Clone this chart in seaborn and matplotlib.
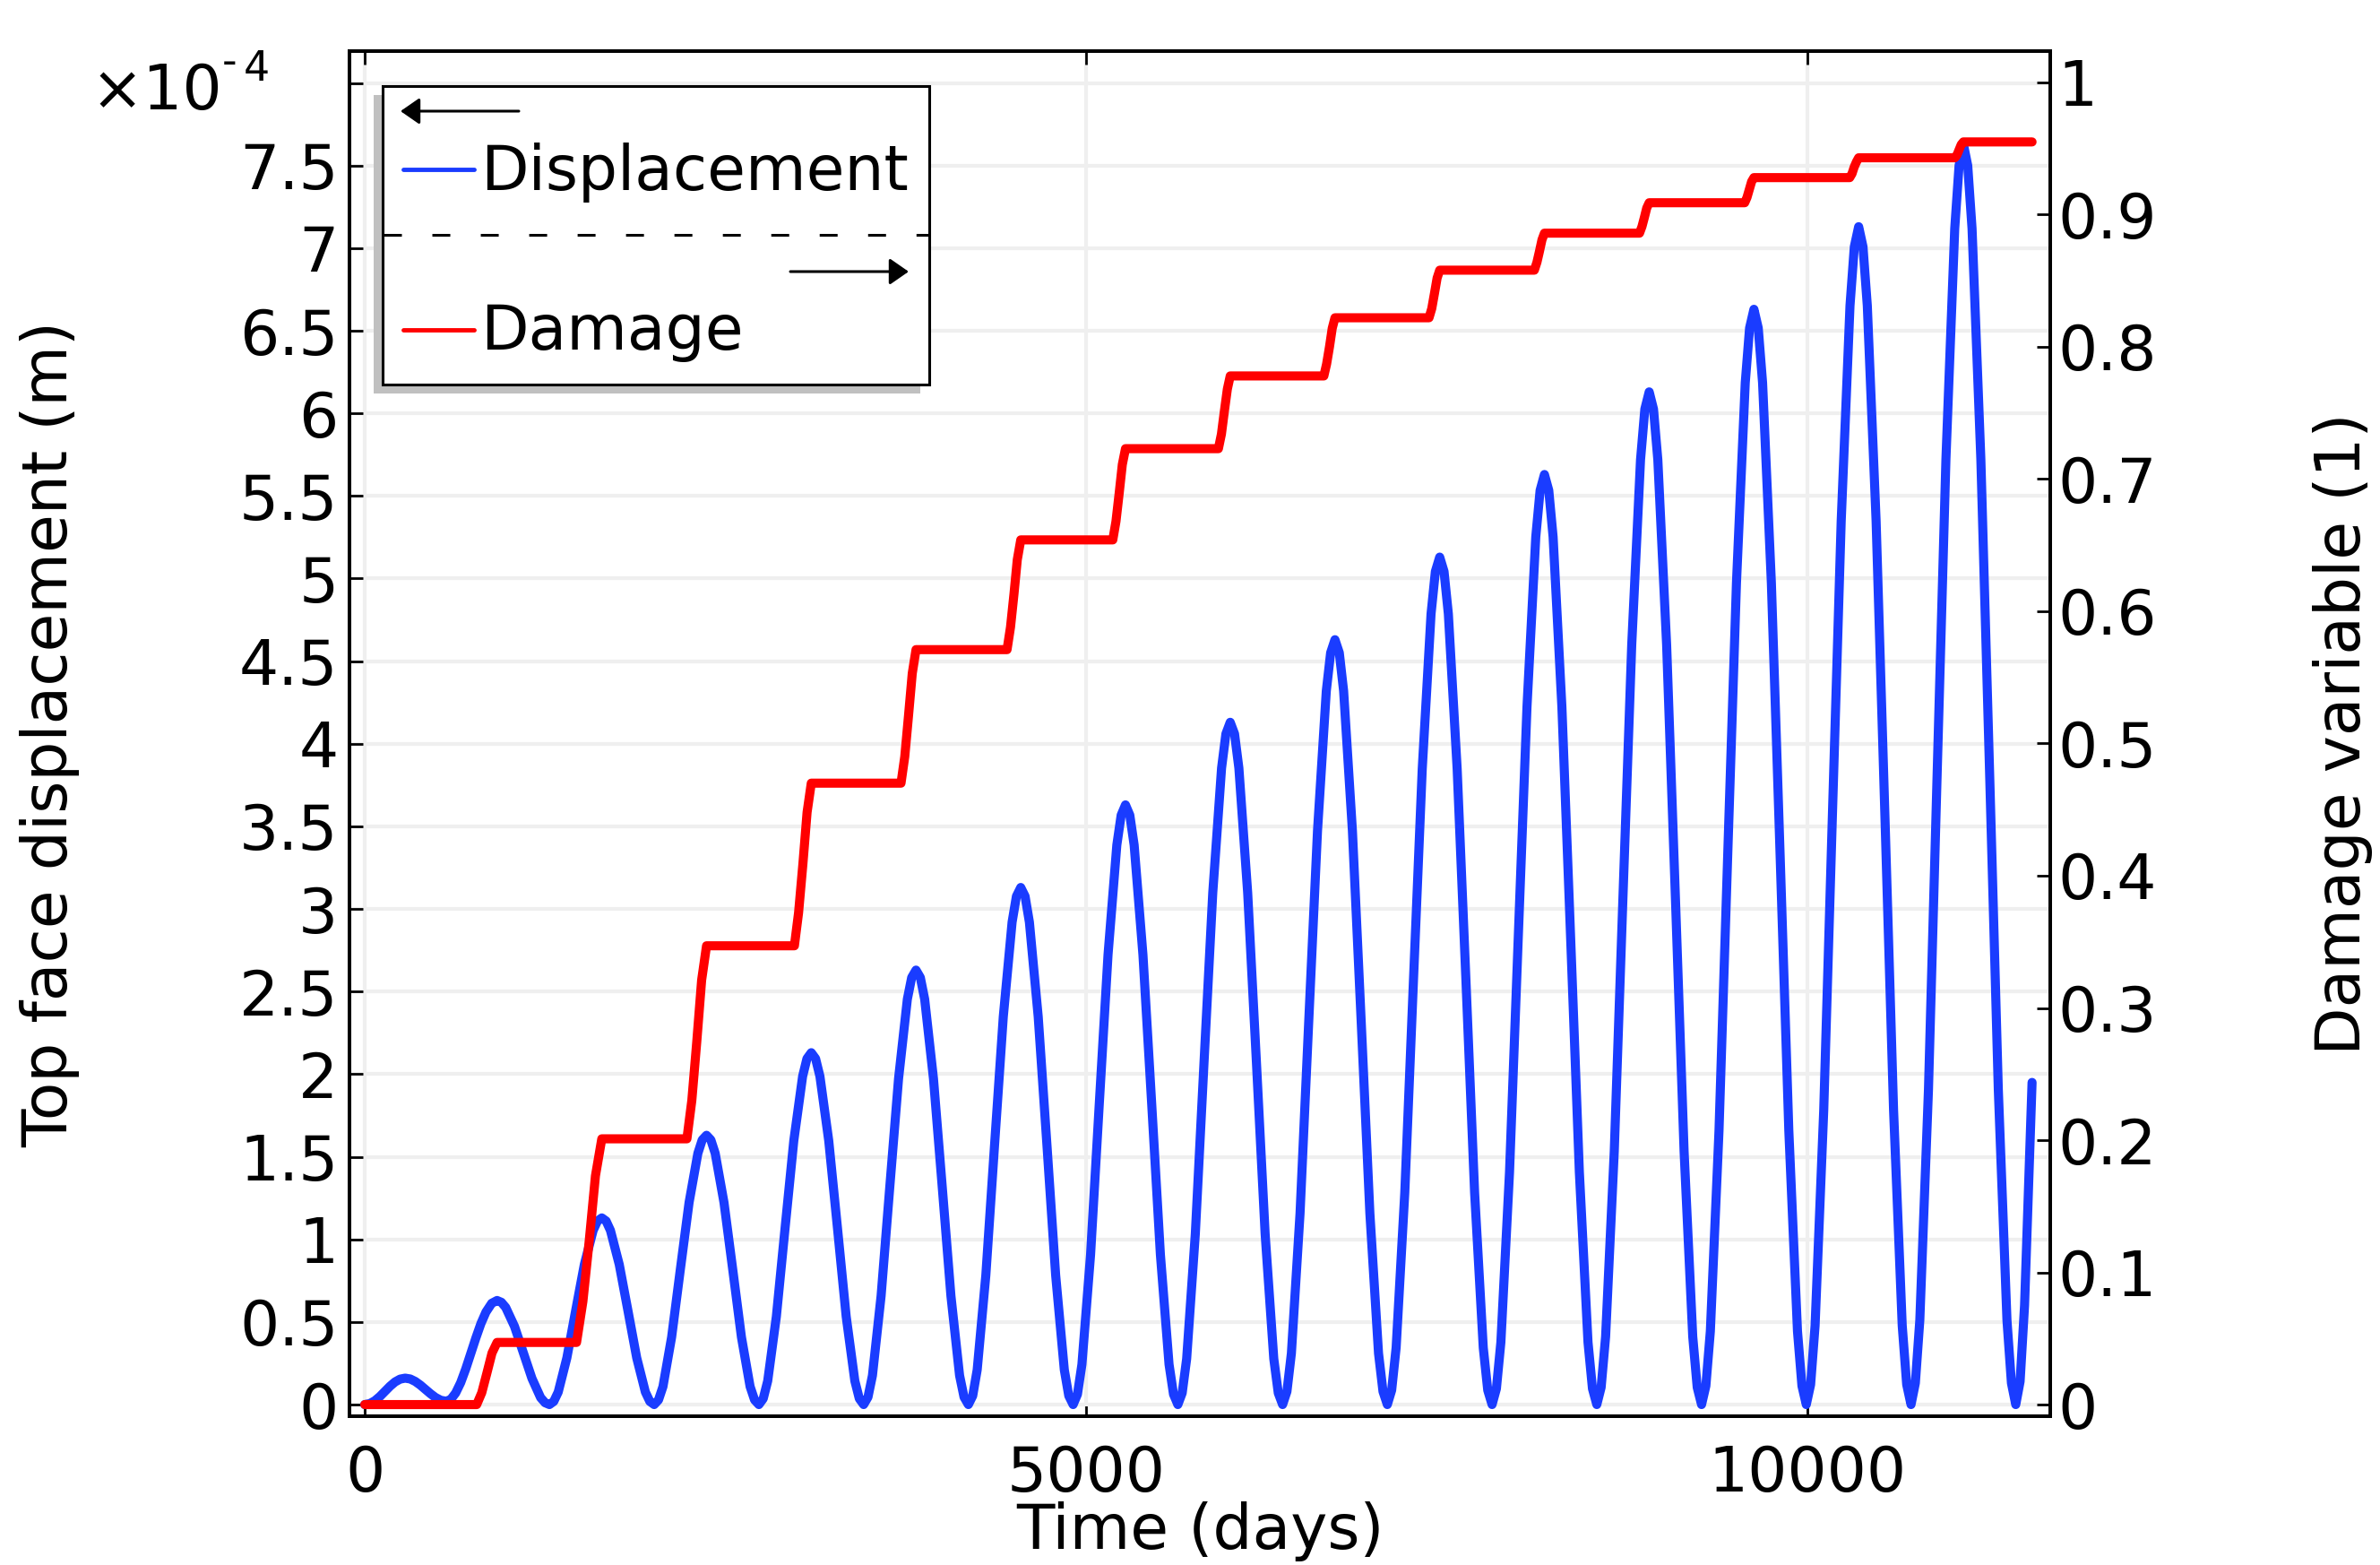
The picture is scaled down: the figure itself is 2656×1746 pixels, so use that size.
import numpy as np
import pandas as pd
import matplotlib
matplotlib.use("Agg")
import matplotlib.pyplot as plt
import seaborn as sns
from matplotlib.patches import Rectangle, FancyArrowPatch
from matplotlib.lines import Line2D

# ---------------- data ----------------
# Top face displacement, in units of 1e-4 m
disp_time = [
    0, 35, 70, 105, 140, 175, 210, 245, 280, 315, 350, 385, 420, 455, 490, 527,
    565, 597, 630, 665, 700, 735, 770, 805, 840, 880, 917,
    947, 977, 1038, 1099, 1159, 1219, 1250, 1280, 1310, 1341, 1401, 1461, 1522, 1583, 1613, 1643,
    1673, 1703, 1764, 1825, 1885, 1945, 1976, 2006, 2036, 2067, 2127, 2187, 2248, 2309, 2339, 2369,
    2399, 2429, 2490, 2551, 2611, 2671, 2702, 2732, 2762, 2793, 2853, 2913, 2974, 3035, 3065, 3095,
    3125, 3155, 3216, 3277, 3337, 3397, 3428, 3458, 3488, 3519, 3579, 3639, 3700, 3761, 3791, 3821,
    3851, 3881, 3942, 4003, 4063, 4123, 4154, 4184, 4214, 4245, 4305, 4365, 4426, 4487, 4517, 4547,
    4577, 4607, 4668, 4729, 4789, 4849, 4880, 4910, 4940, 4971, 5031, 5091, 5152, 5213, 5243, 5273,
    5303, 5333, 5394, 5455, 5515, 5575, 5606, 5636, 5666, 5697, 5757, 5817, 5878, 5939, 5969, 5999,
    6029, 6059, 6120, 6181, 6241, 6301, 6332, 6362, 6392, 6423, 6483, 6543, 6604, 6665, 6695, 6725,
    6755, 6785, 6846, 6907, 6967, 7027, 7058, 7088, 7118, 7149, 7209, 7269, 7330, 7391, 7421, 7451,
    7481, 7511, 7572, 7633, 7693, 7753, 7784, 7814, 7844, 7875, 7935, 7995, 8056, 8117, 8147, 8177,
    8207, 8237, 8298, 8359, 8419, 8479, 8510, 8540, 8570, 8601, 8661, 8721, 8782, 8843, 8873, 8903,
    8933, 8963, 9024, 9085, 9145, 9205, 9236, 9266, 9296, 9327, 9387, 9447, 9508, 9569, 9599, 9629,
    9659, 9689, 9750, 9811, 9871, 9931, 9962, 9992, 10022, 10053, 10113, 10173, 10234, 10295, 10325, 10355,
    10385, 10415, 10476, 10537, 10597, 10657, 10688, 10718, 10748, 10779, 10839, 10899, 10960, 11021, 11051, 11081,
    11111, 11141, 11202, 11263, 11323, 11383, 11414, 11444, 11474, 11505, 11557,
]
disp_value = [
    0, 0.006, 0.023, 0.049, 0.080, 0.111, 0.137, 0.154, 0.160, 0.155, 0.140, 0.118, 0.092, 0.066, 0.043, 0.026,
    0.020, 0.032, 0.070, 0.133, 0.216, 0.309, 0.403, 0.490, 0.560, 0.613, 0.630,
    0.619, 0.588, 0.473, 0.315, 0.158, 0.042, 0.011, 0, 0.019, 0.076, 0.283, 0.565, 0.848, 1.054, 1.111, 1.130,
    1.111, 1.054, 0.848, 0.565, 0.283, 0.076, 0.019, 0, 0.028, 0.109, 0.408, 0.815, 1.223, 1.521, 1.602, 1.630,
    1.602, 1.521, 1.223, 0.815, 0.408, 0.109, 0.028, 0, 0.036, 0.143, 0.533, 1.065, 1.598, 1.987, 2.094, 2.130,
    2.094, 1.987, 1.598, 1.065, 0.533, 0.143, 0.036, 0, 0.045, 0.176, 0.658, 1.315, 1.973, 2.454, 2.585, 2.630,
    2.585, 2.454, 1.973, 1.315, 0.658, 0.176, 0.045, 0, 0.053, 0.210, 0.783, 1.565, 2.348, 2.920, 3.077, 3.130,
    3.077, 2.920, 2.348, 1.565, 0.783, 0.210, 0.053, 0, 0.062, 0.243, 0.908, 1.815, 2.723, 3.387, 3.568, 3.630,
    3.568, 3.387, 2.723, 1.815, 0.908, 0.243, 0.062, 0, 0.070, 0.277, 1.033, 2.065, 3.098, 3.853, 4.060, 4.130,
    4.060, 3.853, 3.098, 2.065, 1.033, 0.277, 0.070, 0, 0.079, 0.310, 1.158, 2.315, 3.473, 4.320, 4.551, 4.630,
    4.551, 4.320, 3.473, 2.315, 1.158, 0.310, 0.079, 0, 0.087, 0.344, 1.283, 2.565, 3.848, 4.786, 5.043, 5.130,
    5.043, 4.786, 3.848, 2.565, 1.283, 0.344, 0.087, 0, 0.096, 0.377, 1.408, 2.815, 4.223, 5.253, 5.534, 5.630,
    5.534, 5.253, 4.223, 2.815, 1.408, 0.377, 0.096, 0, 0.104, 0.411, 1.533, 3.065, 4.598, 5.719, 6.026, 6.130,
    6.026, 5.719, 4.598, 3.065, 1.533, 0.411, 0.104, 0, 0.113, 0.444, 1.658, 3.315, 4.973, 6.186, 6.517, 6.630,
    6.517, 6.186, 4.973, 3.315, 1.658, 0.444, 0.113, 0, 0.121, 0.478, 1.783, 3.565, 5.348, 6.652, 7.009, 7.130,
    7.009, 6.652, 5.348, 3.565, 1.783, 0.478, 0.121, 0, 0.130, 0.511, 1.908, 3.815, 5.723, 7.119, 7.500, 7.630,
    7.500, 7.119, 5.723, 3.815, 1.908, 0.511, 0.130, 0, 0.140, 0.600, 1.950,
]

# Damage variable (1)
damage_time = [
    0,
    776, 811, 847, 882, 917,
    1468, 1512, 1556, 1599, 1643,
    2233, 2267, 2301, 2335, 2369,
    2978, 3007, 3037, 3066, 3095,
    3717, 3743, 3769, 3795, 3821,
    4452, 4476, 4500, 4523, 4547,
    5185, 5207, 5229, 5251, 5273,
    5917, 5938, 5958, 5979, 5999,
    6648, 6667, 6687, 6706, 6725,
    7377, 7396, 7414, 7433, 7451,
    8107, 8125, 8142, 8160, 8177,
    8836, 8853, 8870, 8886, 8903,
    9565, 9581, 9597, 9613, 9629,
    10293, 10309, 10324, 10340, 10355,
    11021, 11036, 11051, 11066, 11081,
    11557,
]
damage_value = [
    0,
    0, 0.009, 0.024, 0.039, 0.047,
    0.047, 0.078, 0.124, 0.173, 0.201,
    0.201, 0.230, 0.274, 0.321, 0.347,
    0.347, 0.372, 0.409, 0.448, 0.470,
    0.470, 0.490, 0.521, 0.553, 0.571,
    0.571, 0.588, 0.613, 0.639, 0.654,
    0.654, 0.668, 0.689, 0.711, 0.723,
    0.723, 0.734, 0.751, 0.768, 0.778,
    0.778, 0.787, 0.800, 0.814, 0.822,
    0.822, 0.829, 0.840, 0.852, 0.858,
    0.858, 0.864, 0.872, 0.881, 0.886,
    0.886, 0.891, 0.898, 0.905, 0.909,
    0.909, 0.913, 0.919, 0.925, 0.928,
    0.928, 0.931, 0.936, 0.940, 0.943,
    0.943, 0.945, 0.949, 0.953, 0.955,
    0.955,
]

x_ticks = [0, 5000, 10000]
x_tick_labels = ["0", "5000", "10000"]
disp_ticks = [0, 0.5, 1, 1.5, 2, 2.5, 3, 3.5, 4, 4.5, 5, 5.5, 6, 6.5, 7, 7.5, 8]
disp_tick_labels = ["0", "0.5", "1", "1.5", "2", "2.5", "3", "3.5", "4", "4.5",
                    "5", "5.5", "6", "6.5", "7", "7.5", ""]
damage_ticks = [0, 0.1, 0.2, 0.3, 0.4, 0.5, 0.6, 0.7, 0.8, 0.9, 1.0]
damage_tick_labels = ["0", "0.1", "0.2", "0.3", "0.4", "0.5", "0.6", "0.7", "0.8", "0.9", "1"]

series_names = ["Displacement", "Damage"]
x_label = "Time (days)"
y_label = "Top face displacement (m)"
y2_label = "Damage variable (1)"
BLUE = "#1a3cff"
RED = "#ff0000"

# ---------------- figure ----------------
sns.set_style("white")
plt.rcParams["font.family"] = ["DejaVu Sans"]
plt.rcParams["lines.scale_dashes"] = False
plt.rcParams["text.color"] = "black"
plt.rcParams["axes.labelcolor"] = "black"
plt.rcParams["xtick.color"] = "black"
plt.rcParams["ytick.color"] = "black"

W, H = 2656, 1746
fig = plt.figure(figsize=(W / 100, H / 100), dpi=100)
L, R, T, B = 390, 2288, 57, 1580
ax = fig.add_axes([L / W, 1 - B / H, (R - L) / W, (B - T) / H])
ax2 = ax.twinx()

df_disp = pd.DataFrame({"t": disp_time, "u": disp_value})
df_dmg = pd.DataFrame({"t": damage_time, "d": damage_value})
sns.lineplot(data=df_disp, x="t", y="u", ax=ax, color=BLUE, linewidth=7.3,
             estimator=None, sort=False)
sns.lineplot(data=df_dmg, x="t", y="d", ax=ax2, color=RED, linewidth=7.3,
             estimator=None, sort=False)

ax.set_xlim(-106, 11683)
ax.set_ylim(-0.0705, 8.193)
ax2.set_ylim(-0.0088, 1.0237)

ax.set_xticks(x_ticks)
ax.set_xticklabels(x_tick_labels)
ax.set_yticks(disp_ticks)
ax.set_yticklabels(disp_tick_labels)
ax2.set_yticks(damage_ticks)
ax2.set_yticklabels(damage_tick_labels)

ax.grid(True, color="#efefef", linewidth=3)
ax2.grid(False)
ax.set_axisbelow(True)

FS = 50
ax.tick_params(axis="x", bottom=True, top=True, direction="in", length=10.8,
               width=2, labelsize=FS, pad=22, colors="black")
ax.tick_params(axis="y", left=True, right=False, direction="in", length=10.8,
               width=2, labelsize=FS, pad=9, colors="black")
ax2.tick_params(axis="y", right=True, left=False, direction="in", length=10.8,
                width=2, labelsize=FS, pad=6, colors="black")

for a in (ax, ax2):
    for s in a.spines.values():
        s.set_visible(True)
        s.set_color("black")
        s.set_linewidth(2.8)

ax.set_xlabel(x_label, fontsize=FS, va="center", color="black")
ax.xaxis.set_label_coords(0.5, -0.0847)
ax.set_ylabel(y_label, fontsize=FS, va="center", color="black")
ax.yaxis.set_label_coords(-0.176, 0.5)
ax2.set_ylabel(y2_label, fontsize=FS, rotation=90, va="center", color="black")
ax2.yaxis.set_label_coords(1.172, 0.5)

# exponent annotation of the left axis
def fx(px):
    return px / W

def fy(py):
    return 1 - py / H

fig.text(fx(101), fy(122), "\u00d710", fontsize=FS, ha="left", va="baseline",
         color="black")
fig.text(fx(248), fy(83), "-", fontsize=33, ha="left", va="baseline", color="black")
fig.text(fx(272), fy(90), "4", fontsize=33, ha="left", va="baseline", color="black")

# ---------------- legend (drawn like the reference) ----------------
fig.add_artist(Rectangle((fx(417), fy(439)), (1037 - 427) / W, (439 - 106) / H,
                         facecolor="#c0c0c0", edgecolor="none",
                         transform=fig.transFigure, zorder=5))
fig.add_artist(Rectangle((fx(427), fy(429)), (1037 - 427) / W, (429 - 96) / H,
                         facecolor="white", edgecolor="black", linewidth=2.2,
                         transform=fig.transFigure, zorder=6))
arrow_style = "-|>,head_length=0.72,head_width=0.5"
fig.add_artist(FancyArrowPatch((fx(579), fy(124)), (fx(447), fy(124)),
                               arrowstyle=arrow_style, mutation_scale=18,
                               linewidth=2.2, color="black", shrinkA=0, shrinkB=0,
                               transform=fig.transFigure, zorder=7))
fig.add_artist(FancyArrowPatch((fx(882), fy(303)), (fx(1014), fy(303)),
                               arrowstyle=arrow_style, mutation_scale=18,
                               linewidth=2.2, color="black", shrinkA=0, shrinkB=0,
                               transform=fig.transFigure, zorder=7))
fig.add_artist(Line2D([fx(428), fx(1037)], [fy(262), fy(262)], color="black",
                      linewidth=2.2, linestyle=(0, (14.4, 24.5)),
                      transform=fig.transFigure, zorder=7))
fig.add_artist(Line2D([fx(450), fx(529)], [fy(189), fy(189)], color=BLUE,
                      linewidth=3.5, transform=fig.transFigure, zorder=7))
fig.add_artist(Line2D([fx(450), fx(529)], [fy(368), fy(368)], color=RED,
                      linewidth=3.5, transform=fig.transFigure, zorder=7))
fig.text(fx(536), fy(212), series_names[0], fontsize=FS, ha="left",
         va="baseline", zorder=8, color="black")
fig.text(fx(536), fy(390), series_names[1], fontsize=FS, ha="left",
         va="baseline", zorder=8, color="black")

fig.savefig("out.png", dpi=100)
